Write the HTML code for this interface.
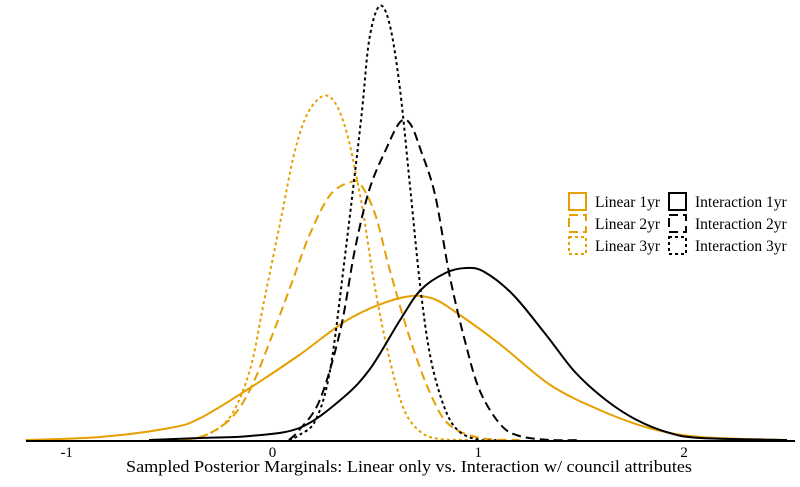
<!DOCTYPE html>
<html><head><meta charset="utf-8"><style>
body{margin:0;background:#fff}
svg text{font-family:"Liberation Serif",serif;fill:#000}
</style></head><body>
<svg id="chart" width="800" height="482">
<g id="curves"></g>
<line x1="26" x2="795" y1="441" y2="441" stroke="#000" stroke-width="2"/>
<g id="ticks"></g>
<text x="409" y="472" text-anchor="middle" font-size="17" textLength="566" lengthAdjust="spacingAndGlyphs">Sampled Posterior Marginals: Linear only vs. Interaction w/ council attributes</text>
<g id="legend"></g>
</svg>
<script>
const tickValues=[-1,0,1,2];
const tickLabels=["-1","0","1","2"];
const seriesNames=["Linear 1yr","Linear 2yr","Linear 3yr","Interaction 1yr","Interaction 2yr","Interaction 3yr"];
const lin1X=[-1.2,-0.84,-0.5,-0.35,-0.11,0.13,0.38,0.62,0.77,0.91,1.11,1.35,1.59,1.83,2.08,2.5];
const lin1D=[0,0.015,0.06,0.11,0.26,0.425,0.61,0.71,0.71,0.625,0.475,0.275,0.15,0.06,0.015,0];
const lin2X=[-0.5,-0.35,-0.21,-0.11,-0.01,0.09,0.18,0.28,0.38,0.43,0.50,0.57,0.67,0.77,0.86,1.01,1.2];
const lin2D=[0,0.015,0.1,0.25,0.5,0.775,1.025,1.225,1.29,1.275,1.125,0.85,0.5,0.225,0.075,0.01,0];
const lin3X=[-0.5,-0.35,-0.21,-0.11,-0.04,0.04,0.11,0.18,0.27,0.35,0.43,0.50,0.57,0.64,0.72,0.81,0.95];
const lin3D=[0,0.015,0.11,0.35,0.7,1.1,1.45,1.65,1.72,1.575,1.2,0.75,0.4,0.15,0.04,0.005,0];
const int1X=[-0.6,-0.35,-0.11,0.13,0.33,0.47,0.62,0.72,0.84,0.94,1.03,1.17,1.33,1.47,1.62,1.77,1.93,2.08,2.5];
const int1D=[0,0.01,0.02,0.06,0.2,0.35,0.6,0.75,0.835,0.86,0.84,0.725,0.525,0.34,0.2,0.1,0.035,0.01,0];
const int2X=[0.08,0.13,0.23,0.33,0.40,0.47,0.55,0.62,0.67,0.72,0.79,0.86,0.94,1.01,1.11,1.20,1.35,1.5];
const int2D=[0,0.05,0.2,0.55,0.95,1.25,1.45,1.59,1.58,1.45,1.225,0.825,0.475,0.24,0.075,0.02,0,0];
const int3X=[0.08,0.13,0.21,0.28,0.35,0.43,0.47,0.52,0.57,0.62,0.67,0.72,0.77,0.84,0.91,1.01,1.1];
const int3D=[0,0.025,0.1,0.35,0.9,1.6,2.0,2.17,2.075,1.75,1.25,0.75,0.4,0.15,0.04,0,0];

const NS="http://www.w3.org/2000/svg";
const xScale=v=>272.5+v*205.8;
const yScale=d=>440-d*200;
const ORANGE="#E69F00";
const series=[
 {n:0,x:lin1X,d:lin1D,c:ORANGE,dash:""},
 {n:1,x:lin2X,d:lin2D,c:ORANGE,dash:"9,5"},
 {n:2,x:lin3X,d:lin3D,c:ORANGE,dash:"3,3"},
 {n:3,x:int1X,d:int1D,c:"#000",dash:""},
 {n:4,x:int2X,d:int2D,c:"#000",dash:"9,5"},
 {n:5,x:int3X,d:int3D,c:"#000",dash:"3,3"}];
function smooth(pts){
 let s="M"+pts[0][0]+","+pts[0][1];
 for(let i=0;i<pts.length-1;i++){
  const p0=pts[Math.max(0,i-1)],p1=pts[i],p2=pts[i+1],p3=pts[Math.min(pts.length-1,i+2)];
  const c1=[p1[0]+(p2[0]-p0[0])/6,p1[1]+(p2[1]-p0[1])/6];
  const c2=[p2[0]-(p3[0]-p1[0])/6,p2[1]-(p3[1]-p1[1])/6];
  s+=" C"+c1[0].toFixed(1)+","+c1[1].toFixed(1)+" "+c2[0].toFixed(1)+","+c2[1].toFixed(1)+" "+p2[0].toFixed(1)+","+p2[1].toFixed(1);
 }
 return s;
}
const cg=document.getElementById("curves");
series.forEach(s=>{
 const pts=s.x.map((v,i)=>[xScale(v),Math.min(440,yScale(s.d[i]))]);
 const p=document.createElementNS(NS,"path");
 p.setAttribute("d",smooth(pts));
 p.setAttribute("fill","none");
 p.setAttribute("stroke",s.c);
 p.setAttribute("stroke-width","2");
 if(s.dash)p.setAttribute("stroke-dasharray",s.dash);
 
 
 cg.appendChild(p);
});
const tg=document.getElementById("ticks");
tickValues.forEach((v,i)=>{
 const t=document.createElementNS(NS,"text");
 t.setAttribute("x",xScale(v));
 t.setAttribute("y",457);
 t.setAttribute("text-anchor","middle");
 t.setAttribute("font-size","15");
 t.textContent=tickLabels[i];
 
 
 tg.appendChild(t);
});
const lg=document.getElementById("legend");
series.forEach((s,i)=>{
 const col=i<3?0:1,row=i%3;
 const kx=569+col*100,ky=193+row*22;
 const r=document.createElementNS(NS,"rect");
 r.setAttribute("x",kx);r.setAttribute("y",ky);
 r.setAttribute("width",17);r.setAttribute("height",17);
 r.setAttribute("fill","none");r.setAttribute("stroke",s.c);r.setAttribute("stroke-width","2");
 if(s.dash)r.setAttribute("stroke-dasharray",s.dash);
 
 
 lg.appendChild(r);
 const t=document.createElementNS(NS,"text");
 t.setAttribute("x",kx+26);t.setAttribute("y",ky+14);
 t.setAttribute("font-size","15.5");
 t.textContent=seriesNames[s.n];
 
 
 lg.appendChild(t);
});
</script>
</body></html>
